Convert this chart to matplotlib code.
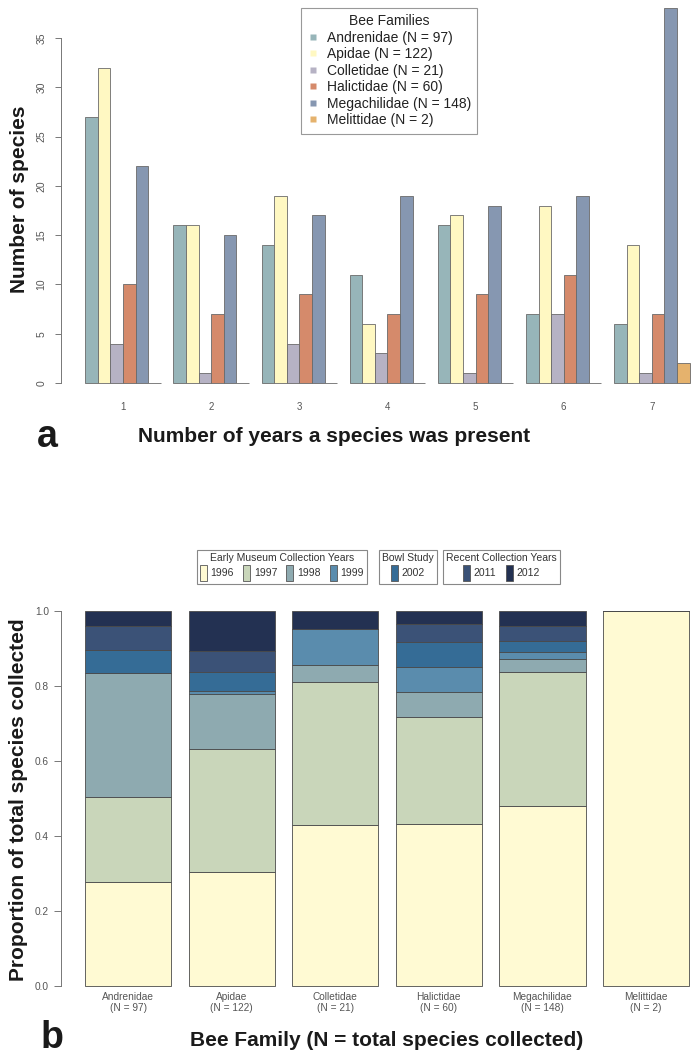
import matplotlib.pyplot as plt
from matplotlib.patches import Patch
from matplotlib.lines import Line2D
import numpy as np

plt.rcParams['font.family'] = ['Liberation Sans', 'DejaVu Sans']

# ---- panel a: species counts by number of years present ----
years_present = ['1', '2', '3', '4', '5', '6', '7']
families = ['Andrenidae', 'Apidae', 'Colletidae', 'Halictidae',
            'Megachilidae', 'Melittidae']
family_n = [97, 122, 21, 60, 148, 2]

andrenidae = [27, 16, 14, 11, 16, 7, 6]
apidae = [32, 16, 19, 6, 17, 18, 14]
colletidae = [4, 1, 4, 3, 1, 7, 1]
halictidae = [10, 7, 9, 7, 9, 11, 7]
megachilidae = [22, 15, 17, 19, 18, 19, 38]
melittidae = [0, 0, 0, 0, 0, 0, 2]

family_colors = ['#97b5b9', '#fff8c2', '#b6b2c4', '#d58a6b', '#8697b1', '#e5b26d']

# ---- panel b: species per collection year (counts) ----
collection_years = ['1996', '1997', '1998', '1999', '2002', '2011', '2012']
y1996 = [27, 37, 9, 26, 71, 2]
y1997 = [22, 40, 8, 17, 53, 0]
y1998 = [32, 18, 1, 4, 5, 0]
y1999 = [0, 1, 2, 4, 3, 0]
y2002 = [6, 6, 0, 4, 4, 0]
y2011 = [6, 7, 0, 3, 6, 0]
y2012 = [4, 13, 1, 2, 6, 0]

year_colors = ['#fffad3', '#c9d6ba', '#8eaab0', '#5a8cad', '#356c96', '#3b5277', '#233152']

W, H = 700, 1059
fig = plt.figure(figsize=(W / 100, H / 100), dpi=100)


def fx(px):
    return px / W


def fy(py):
    return 1 - py / H


tick_grey = '#555555'

# ================= panel a =================
# bar unit = 12.59 px, first bar left edge at x=85.3 px
unit_a = 12.59
x0_a = 85.3
xl_a = 1 - (x0_a - 61.1) / unit_a
xr_a = 1 + (W - x0_a) / unit_a
ppu_a = 9.857            # pixels per species
zero_a = 383
ax1 = fig.add_axes([fx(61.1), fy(zero_a + 1.52 * ppu_a), 1 - fx(61.1),
                    (zero_a + 1.52 * ppu_a) / H])
series_a = [andrenidae, apidae, colletidae, halictidae, megachilidae, melittidae]
for k, (vals, col) in enumerate(zip(series_a, family_colors)):
    lefts = [1 + g * 7 + k for g in range(len(years_present))]
    ax1.bar(lefts, vals, width=1, align='edge', color=col,
            edgecolor='#6a6a6a', linewidth=0.6)
ax1.set_xlim(xl_a, xr_a)
ax1.set_ylim(-1.52, zero_a / ppu_a)
for s in ['top', 'right', 'bottom']:
    ax1.spines[s].set_visible(False)
ax1.spines['left'].set_bounds(0, 35)
ax1.spines['left'].set_color('#777777')
ax1.spines['left'].set_linewidth(0.7)
ax1.set_yticks(np.arange(0, 36, 5))
ax1.tick_params(axis='y', length=4.5, width=0.7, color='#777777', pad=6,
                labelsize=7.5, labelcolor=tick_grey, labelrotation=90)
for lab in ax1.get_yticklabels():
    lab.set_va('center')
ax1.set_xticks([1 + g * 7 + 3 for g in range(len(years_present))])
ax1.set_xticklabels(years_present)
ax1.tick_params(axis='x', length=0, pad=3, labelsize=7, labelcolor=tick_grey)

handles_a = [Line2D([], [], marker='s', linestyle='none', markersize=5,
                    markerfacecolor=c, markeredgecolor='none')
             for c in family_colors]
labels_a = [f'{f} (N = {n})' for f, n in zip(families, family_n)]
leg = fig.legend(handles_a, labels_a, title='Bee Families',
                 loc='upper left', bbox_to_anchor=(fx(301), fy(8)),
                 borderaxespad=0, fontsize=10, title_fontsize=10,
                 handlelength=0.8, handletextpad=0.6, labelspacing=0.18,
                 borderpad=0.45, fancybox=False, framealpha=1)
leg.get_frame().set_edgecolor('#999999')
leg.get_frame().set_linewidth(0.8)
for t in leg.get_texts():
    t.set_color('#222222')
leg.get_title().set_color('#222222')

fig.text(fx(19.5), fy(199), 'Number of species', rotation=90, fontsize=15,
         fontweight='bold', ha='center', va='center', color='#1a1a1a')
fig.text(fx(334), fy(437), 'Number of years a species was present',
         fontsize=15, fontweight='bold', ha='center', va='center', color='#1a1a1a')
fig.text(fx(47), fy(447), 'a', fontsize=27, fontweight='bold',
         ha='center', va='baseline', color='#1a1a1a')

# ================= panel b =================
unit_b = 86.3
x0_b = 85.0
xl_b = 0.2 - (x0_b - 60.8) / unit_b
xr_b = 0.2 + (W - x0_b) / unit_b
ppu_b = 375.0
zero_b = 986
ax2 = fig.add_axes([fx(60.8), fy(zero_b + 0.04 * ppu_b), 1 - fx(60.8),
                    1.08 * ppu_b / H])
series_b = [y1996, y1997, y1998, y1999, y2002, y2011, y2012]
n_arr = np.array(family_n, dtype=float)
centers = [0.7 + i * 1.2 for i in range(len(families))]
bottom = np.zeros(len(families))
for vals, col in zip(series_b, year_colors):
    prop = np.array(vals) / n_arr
    ax2.bar(centers, prop, width=1, bottom=bottom, color=col,
            edgecolor='#4a4a4a', linewidth=0.6)
    bottom += prop
ax2.set_xlim(xl_b, xr_b)
ax2.set_ylim(-0.04, 1.04)
for s in ['top', 'right', 'bottom']:
    ax2.spines[s].set_visible(False)
ax2.spines['left'].set_bounds(0, 1)
ax2.spines['left'].set_color('#777777')
ax2.spines['left'].set_linewidth(0.7)
ax2.set_yticks(np.arange(0, 1.01, 0.2))
ax2.set_yticklabels([f'{v:.1f}' for v in np.arange(0, 1.01, 0.2)])
ax2.tick_params(axis='y', length=5, width=0.7, color='#777777', pad=3.5,
                labelsize=7.3, labelcolor=tick_grey)
ax2.set_xticks(centers)
ax2.set_xticklabels([f'{f}\n(N = {n})' for f, n in zip(families, family_n)],
                    linespacing=1.15)
ax2.tick_params(axis='x', length=0, pad=-6.5, labelsize=7.3, labelcolor=tick_grey)

legend_groups = [
    ('Early Museum Collection Years', [0, 1, 2, 3], 197),
    ('Bowl Study', [4], 379),
    ('Recent Collection Years', [5, 6], 443),
]
for title, idx, left in legend_groups:
    hs = [Patch(facecolor=year_colors[i], edgecolor='#555555', linewidth=0.6)
          for i in idx]
    lg = fig.legend(hs, [collection_years[i] for i in idx], title=title,
                    ncol=len(idx), loc='upper left',
                    bbox_to_anchor=(fx(left), fy(550)), borderaxespad=0,
                    fontsize=7.5, title_fontsize=7.5, handlelength=0.65,
                    handleheight=1.9, handletextpad=0.35, columnspacing=0.9,
                    borderpad=0.3, labelspacing=0.2, fancybox=False,
                    framealpha=1)
    lg.get_frame().set_edgecolor('#888888')
    lg.get_frame().set_linewidth(0.8)
    for t in lg.get_texts():
        t.set_color('#333333')
    lg.get_title().set_color('#333333')

fig.text(fx(19), fy(800), 'Proportion of total species collected', rotation=90,
         fontsize=15, fontweight='bold', ha='center', va='center', color='#1a1a1a')
fig.text(fx(387), fy(1040), 'Bee Family (N = total species collected)',
         fontsize=15, fontweight='bold', ha='center', va='center', color='#1a1a1a')
fig.text(fx(52), fy(1048), 'b', fontsize=27, fontweight='bold',
         ha='center', va='baseline', color='#1a1a1a')

fig.savefig('out.png', dpi=100)
